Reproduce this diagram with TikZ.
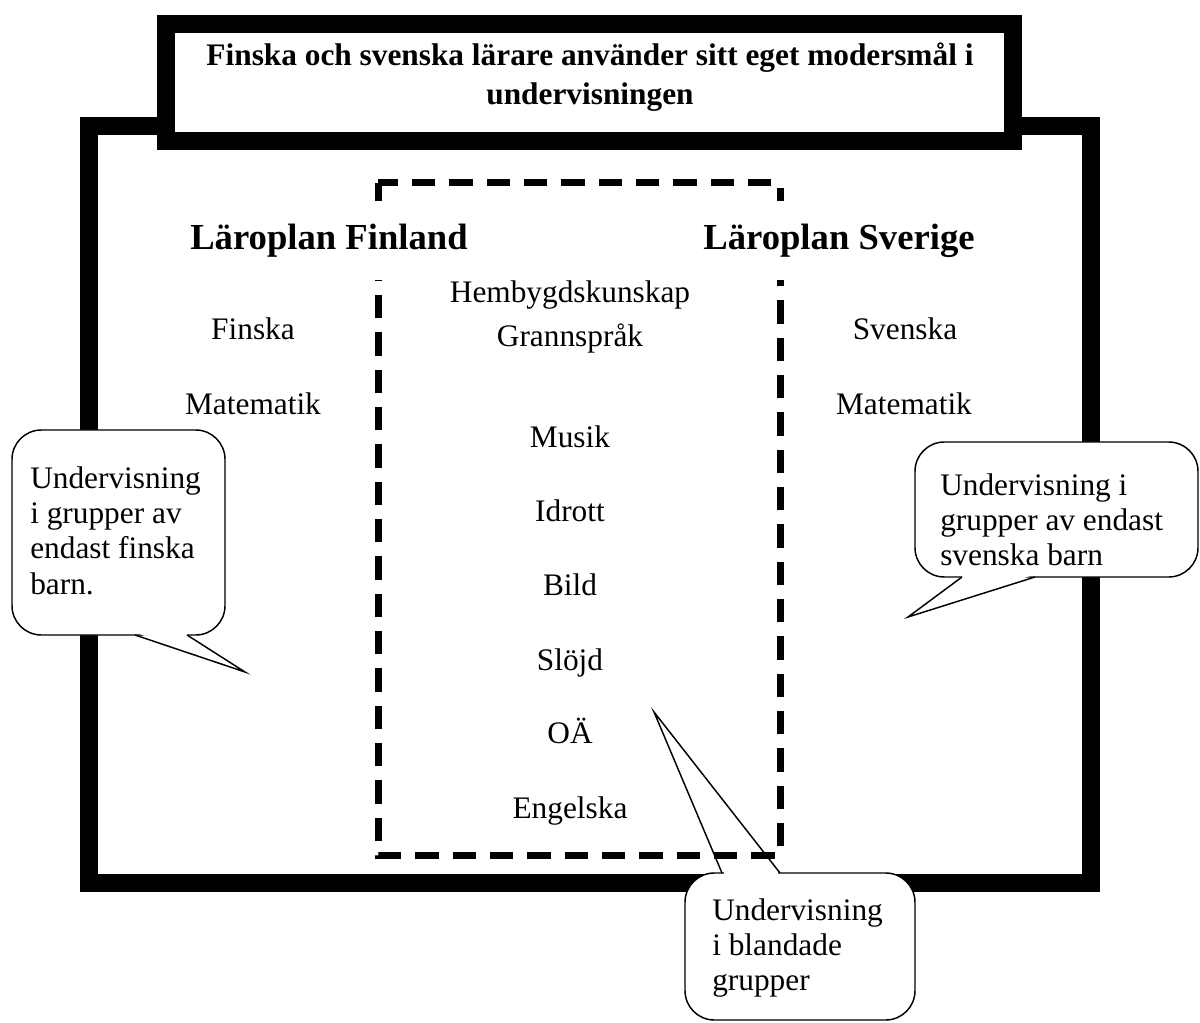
\documentclass[tikz,border=0pt]{standalone}
\usepackage{fontspec}
\setmainfont{Liberation Serif}
\tikzstyle{frame} = [draw=black, line width=13.5pt]
\tikzstyle{titlebox} = [draw=black, fill=white, line width=13.5pt]
\tikzstyle{mixed} = [draw=black, line width=5.25pt, dash pattern=on 17.5pt off 10.5pt]
\tikzstyle{bubble} = [draw=black, fill=white, line width=1.1pt, rounded corners=22pt]
\tikzstyle{tail} = [draw=black, line width=1.1pt, line join=miter]
\tikzstyle{heading} = [anchor=base, fill=white, text height=20pt, text depth=5.75pt, inner ysep=16.75pt, inner xsep=4pt, font=\fontsize{27.5}{30}\selectfont\bfseries]
\tikzstyle{subject} = [anchor=base, font=\fontsize{23.5}{26}\selectfont]
\tikzstyle{note} = [anchor=north west, inner sep=0pt, align=left, font=\fontsize{23.5}{26.5}\selectfont]
\begin{document}
\begin{tikzpicture}[x=0.75pt, y=-0.75pt]
\useasboundingbox (0,0) rectangle (1200,1023);

% frames
\draw[frame] (89,126) rectangle (1091,883);
\draw[titlebox] (166,24) rectangle (1013,141);
\node (TITLE) [anchor=north, inner sep=0pt, align=center, font=\fontsize{23.5}{29.25}\selectfont\bfseries] at (590,43) {Finska och svenska lärare använder sitt eget modersmål i\\undervisningen};
\draw[mixed] (378,183) rectangle (780,855);

% headings
\node (FINLAND) [heading] at (329,250) {Läroplan Finland};
\node (SVERIGE) [heading] at (839,250) {Läroplan Sverige};

% subjects
\node (FINSKA) [subject] at (253,340) {Finska};
\node (MATTEFI) [subject] at (253,415) {Matematik};
\node (SVENSKA) [subject] at (905,340) {Svenska};
\node (MATTESE) [subject] at (904,415) {Matematik};
\node (HEMBYGD) [subject] at (570,303) {Hembygdskunskap};
\node (GRANN) [subject] at (570,347) {Grannspråk};
\node (MUSIK) [subject] at (570,448) {Musik};
\node (IDROTT) [subject] at (570,522) {Idrott};
\node (BILD) [subject] at (570,595) {Bild};
\node (SLOJD) [subject] at (570,670) {Slöjd};
\node (OA) [subject] at (570,743) {OÄ};
\node (ENGELSKA) [subject] at (570,818) {Engelska};

% callouts
\draw[bubble] (12,430) rectangle (225,635);
\fill[white] (137,633) -- (245,672) -- (185,633) -- cycle;
\draw[tail] (135,635) -- (245,672) -- (187,635);
\node (FINNOTE) [note] at (30,466) {Undervisning\\i grupper av\\endast finska\\barn.};

\draw[bubble] (915,442) rectangle (1198,577);
\fill[white] (964,575) -- (908,617) -- (1033,575) -- cycle;
\draw[tail] (962,577) -- (908,617) -- (1035,577);
\node (SWENOTE) [note] at (940,473) {Undervisning i\\grupper av endast\\svenska barn};

\draw[bubble] (685,873) rectangle (915,1020);
\draw[white, line width=2pt] (724,873) -- (778,873);
\draw[tail] (722,873) -- (654,712) -- (780,873);
\node (MIXNOTE) [note] at (712,898) {Undervisning\\i blandade\\grupper};

\end{tikzpicture}
\end{document}
